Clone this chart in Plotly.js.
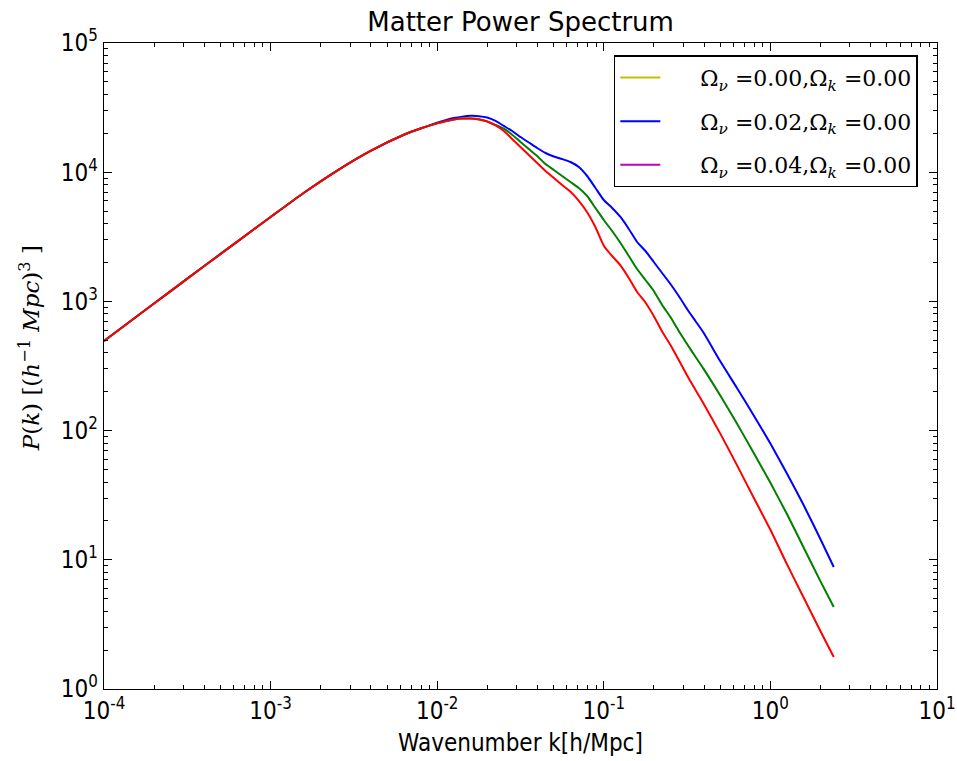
<!DOCTYPE html>
<html>
<head>
<meta charset="utf-8">
<script src="https://cdn.plot.ly/plotly-3.0.1.min.js"></script>
<style>html,body{margin:0;padding:0;background:#fff;}#chart{width:957px;height:761px;}</style>
</head>
<body>
<div id="chart"></div>
<script>
// Wavenumber k [h/Mpc]
const kValues = [
  1e-4, 1.585e-4, 2.512e-4, 3.981e-4, 6.310e-4, 1e-3, 1.585e-3, 2.512e-3, 3.981e-3, 6.310e-3, 7.943e-3,
  0.01, 0.01122, 0.01259, 0.01413, 0.01585, 0.01778, 0.01995, 0.02239, 0.02512, 0.02818,
  0.03162, 0.03548, 0.03981, 0.04467, 0.05012, 0.05623, 0.06310, 0.07079, 0.07943, 0.08913,
  0.1, 0.1122, 0.1259, 0.1413, 0.1585, 0.1778, 0.1995, 0.2239, 0.2512, 0.2818,
  0.3162, 0.3548, 0.3981, 0.5012, 0.6310, 0.7943, 1.0, 1.259, 1.585, 1.995, 2.40
];
// P(k) for the drawn (blue) curve
const pBlue = [
  494, 771, 1202, 1871, 2904, 4498, 6934, 10300, 14620, 19500, 21780,
  24210, 25290, 26240, 26920, 27290, 27160, 26490, 24950, 22800, 20840,
  18730, 16980, 15390, 14080, 13230, 12650, 11990, 10970, 9346, 7546,
  6093, 5284, 4501, 3634, 2883, 2455, 2018, 1659, 1363, 1101,
  873, 705, 569, 342, 213, 131, 79.3, 46.4, 26.4, 14.5, 8.80
];
// P(k) for the drawn (green) curve
const pGreen = [
  494, 771, 1202, 1871, 2904, 4498, 6934, 10300, 14620, 19500, 21780,
  23880, 24830, 25590, 26000, 26060, 25650, 24750, 23250, 21700, 19500,
  17130, 15120, 13350, 11570, 10400, 9346, 8398, 7546, 6543, 5284,
  4266, 3506, 2831, 2246, 1781, 1464, 1204, 938, 757, 590,
  468, 373, 299, 186, 113, 67.1, 39.4, 22.5, 12.4, 6.84, 4.31
];
// P(k) for the drawn (red) curve
const pRed = [
  494, 771, 1202, 1871, 2904, 4498, 6934, 10300, 14620, 19500, 21780,
  23880, 24830, 25590, 26000, 26060, 25590, 24660, 23010, 20840, 18070,
  15670, 13590, 11780, 10210, 9017, 7960, 7050, 6000, 4900, 3750,
  2700, 2246, 1900, 1517, 1183, 980, 770, 585, 460, 352,
  267, 207, 161, 94.3, 53.8, 30.2, 17.1, 9.21, 5.08, 2.81, 1.77
];
const legendLabels = [
  "Ω<sub><i>ν</i></sub> =0.00,Ω<sub><i>k</i></sub> =0.00",
  "Ω<sub><i>ν</i></sub> =0.02,Ω<sub><i>k</i></sub> =0.00",
  "Ω<sub><i>ν</i></sub> =0.04,Ω<sub><i>k</i></sub> =0.00"
];
const legendColors = ["#bfbf00", "#0000ff", "#bf00bf"];
const lineColors = ["#0000ff", "#007f00", "#ff0000"];
const curves = [pBlue, pGreen, pRed];
const tickValsX = [1e-4, 1e-3, 1e-2, 1e-1, 1e0, 1e1];
const tickTextX = ["10<sup>-4</sup>", "10<sup>-3</sup>", "10<sup>-2</sup>", "10<sup>-1</sup>", "10<sup>0</sup>", "10<sup>1</sup>"];
const tickValsY = [1e0, 1e1, 1e2, 1e3, 1e4, 1e5];
const tickTextY = ["10<sup>0</sup>", "10<sup>1</sup>", "10<sup>2</sup>", "10<sup>3</sup>", "10<sup>4</sup>", "10<sup>5</sup>"];

const traces = [];
curves.forEach((p, i) => {
  traces.push({
    x: kValues, y: p, type: "scatter", mode: "lines",
    line: {color: lineColors[i], width: 2, shape: "spline", smoothing: 0.6},
    showlegend: false, hoverinfo: "skip"
  });
});
legendLabels.forEach((lab, i) => {
  traces.push({
    x: [null], y: [null], type: "scatter", mode: "lines",
    name: "&nbsp;&nbsp;&nbsp;&nbsp;&nbsp;" + lab, legendgroup: "g" + i,
    line: {color: legendColors[i], width: 2}
  });
});

const tickFont = {family: "DejaVu Sans Condensed, DejaVu Sans", size: 24, color: "#000"};
const axisCommon = {
  type: "log",
  ticks: "inside", ticklen: 8, tickwidth: 1, tickcolor: "#000",
  showline: true, linecolor: "#000", linewidth: 1.3, mirror: "allticks",
  showgrid: false, zeroline: false,
  minor: {ticks: "inside", ticklen: 4, tickwidth: 1, tickcolor: "#000", showgrid: false, dtick: "D1"},
  tickfont: tickFont
};

const layout = {
  width: 957, height: 761,
  paper_bgcolor: "#fff", plot_bgcolor: "#fff",
  margin: {l: 104, r: 20, t: 43, b: 72},
  title: {text: "Matter Power Spectrum", font: {family: "DejaVu Sans", size: 26, color: "#000"},
          x: 0.544, xanchor: "center", y: 0.971, yanchor: "middle"},
  xaxis: Object.assign({}, axisCommon, {
    range: [-4, 1], tickmode: "array", tickvals: tickValsX, ticktext: tickTextX,
    title: {text: "Wavenumber k[h/Mpc]", font: {family: "DejaVu Sans Condensed, DejaVu Sans", size: 24, color: "#000"}, standoff: 10}
  }),
  yaxis: Object.assign({}, axisCommon, {
    range: [0, 5], tickmode: "array", tickvals: tickValsY, ticktext: tickTextY,
    title: {text: "&nbsp;&nbsp;&nbsp;&nbsp;&nbsp;<i>P</i>(<i>k</i>) [(<i>h</i><sup>−1</sup> <i>Mpc</i>)<sup>3</sup> ]",
            font: {family: "DejaVu Serif", size: 23, color: "#000"}, standoff: 14}
  }),
  legend: {
    x: 0.977, y: 0.981, xanchor: "right", yanchor: "top",
    bgcolor: "#fff", bordercolor: "#000", borderwidth: 1.5,
    font: {family: "DejaVu Serif", size: 22, color: "#000"},
    tracegroupgap: 12, itemwidth: 40
  },
  showlegend: true
};

Plotly.newPlot("chart", traces, layout, {displayModeBar: false, staticPlot: true});
</script>
</body>
</html>
